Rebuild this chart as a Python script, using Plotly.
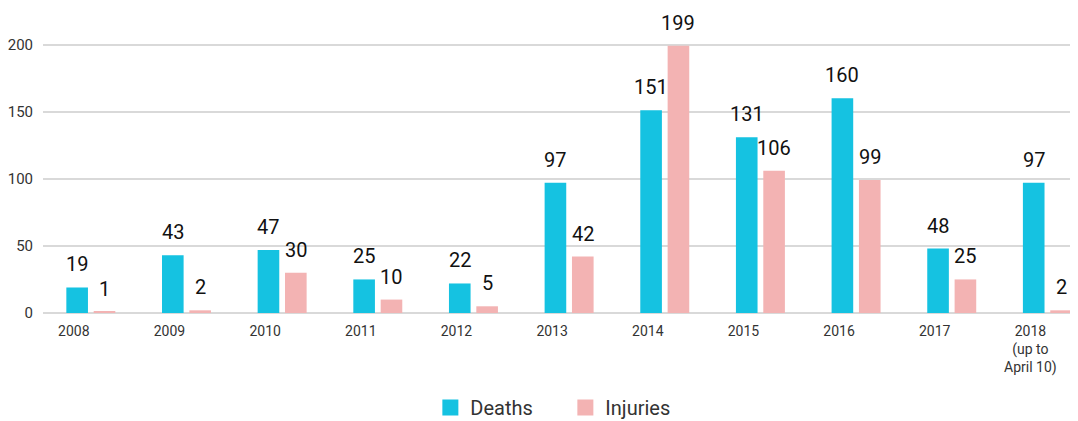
import plotly.graph_objects as go

years = ["2008", "2009", "2010", "2011", "2012", "2013", "2014", "2015", "2016", "2017",
         "2018<br>(up to<br>April 10)"]
deaths = [19, 43, 47, 25, 22, 97, 151, 131, 160, 48, 97]
injuries = [1, 2, 30, 10, 5, 42, 199, 106, 99, 25, 2]
y_ticks = [0, 50, 100, 150, 200]

c_deaths = "#15C2E1"
c_inj = "#F3B3B3"
font = "Roboto"

bar_w = 0.226
gap = 0.06
idx = list(range(len(years)))

fig = go.Figure()
fig.add_trace(go.Bar(x=idx, y=deaths, width=bar_w, offset=-(bar_w + gap / 2),
                     marker=dict(color=c_deaths, line=dict(width=0)), showlegend=False, name="Deaths"))
fig.add_trace(go.Bar(x=idx, y=injuries, width=bar_w, offset=gap / 2,
                     marker=dict(color=c_inj, line=dict(width=0)), showlegend=False, name="Injuries"))
# legend entries with larger squares
fig.add_trace(go.Scatter(x=[None], y=[None], mode="markers", name="Deaths",
                         marker=dict(symbol="square", size=16, color=c_deaths)))
fig.add_trace(go.Scatter(x=[None], y=[None], mode="markers", name="Injuries",
                         marker=dict(symbol="square", size=16, color=c_inj)))

for i in idx:
    for val, off in ((deaths[i], -(gap / 2 + bar_w / 2)), (injuries[i], gap / 2 + bar_w / 2)):
        fig.add_annotation(x=i + off, y=val, text=str(val), showarrow=False,
                           yanchor="bottom", xanchor="center", yshift=9,
                           font=dict(family=font, size=20, color="#111111"))

fig.update_layout(
    width=1070, height=413,
    margin=dict(l=35, r=0, t=2, b=108, autoexpand=False),
    paper_bgcolor="white", plot_bgcolor="white",
    barmode="overlay",
    font=dict(family=font, color="#333333"),
    xaxis=dict(range=[-0.5, 10.32], tickmode="array", tickvals=idx, ticktext=years,
               showgrid=False, zeroline=False, showline=False, ticks="",
               tickfont=dict(size=14, color="#333333"), ticklabelshift=-17,
               ticklabelstandoff=8, automargin=False),
    yaxis=dict(range=[0, 225.7], tickmode="array", tickvals=y_ticks,
               showgrid=True, gridcolor="#D9D9D9", gridwidth=2,
               zeroline=True, zerolinecolor="#D9D9D9", zerolinewidth=2,
               showline=False, ticks="", ticklabelstandoff=9, automargin=False,
               tickfont=dict(size=15, color="#333333")),
    legend=dict(orientation="h", x=0.5047, xanchor="center", y=-0.312, yanchor="middle",
                font=dict(size=20, color="#333333"), itemclick=False,
                entrywidth=90, entrywidthmode="pixels"),
)

fig.write_html("out.html")
